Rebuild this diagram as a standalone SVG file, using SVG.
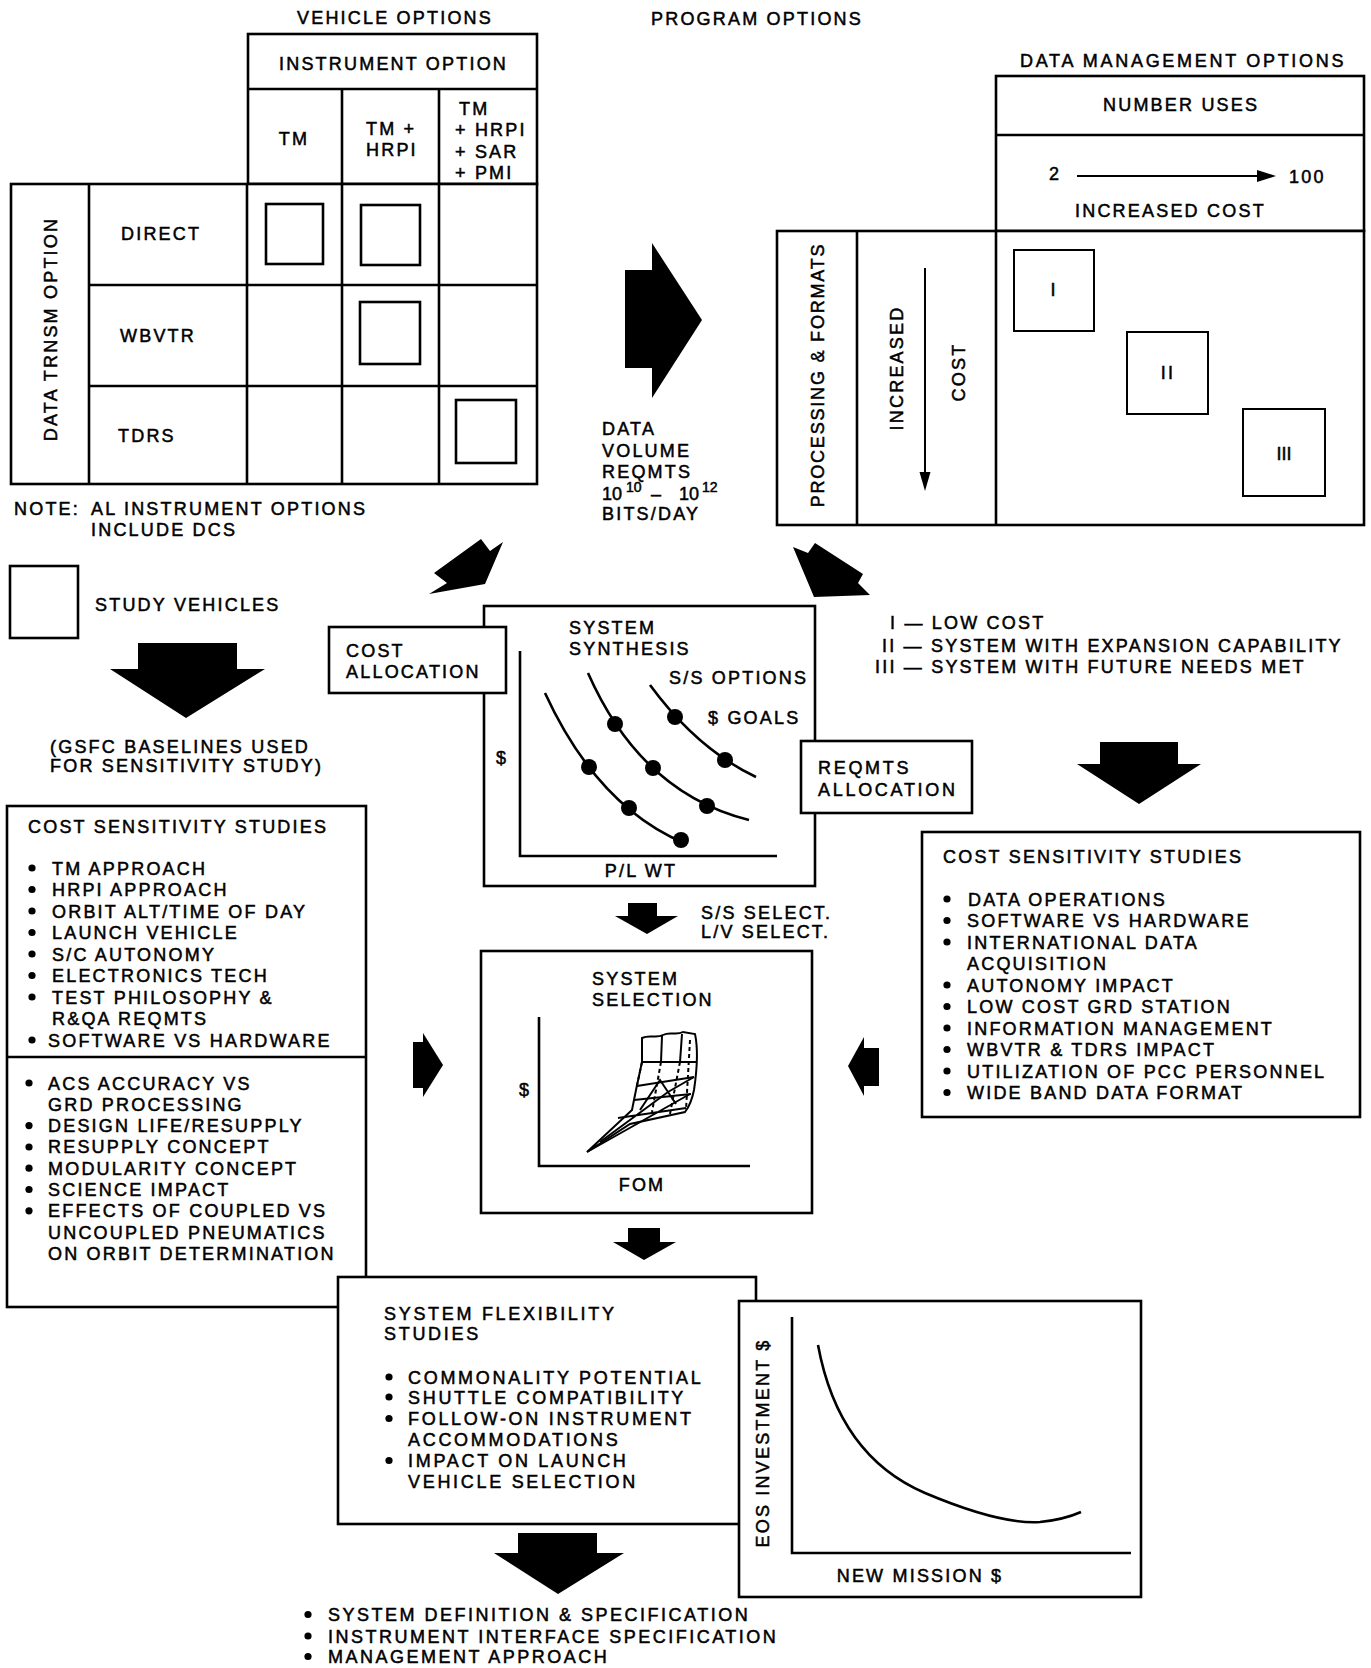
<svg xmlns="http://www.w3.org/2000/svg" width="1371" height="1668" viewBox="0 0 1371 1668">
<style>
text{font-family:"Liberation Sans",Arial,sans-serif;font-size:18px;letter-spacing:2.2px;fill:#000;stroke:#000;stroke-width:0.5}
.m{text-anchor:middle}
.box{fill:#fff;stroke:#000;stroke-width:2.6}
.ln{fill:none;stroke:#000;stroke-width:2.6}
.thin{fill:none;stroke:#000;stroke-width:2}
.arr{fill:#000;stroke:none}
.dot{fill:#000;stroke:none}
.dash{stroke-dasharray:4 3}
.wide{letter-spacing:2.7px}
</style>
<rect width="1371" height="1668" fill="#fff"/>

<!-- Vehicle options matrix -->
<g id="vehicle-options">
  <text class="m" x="395" y="24">VEHICLE OPTIONS</text>
  <rect class="box" x="248" y="34" width="289" height="150"/>
  <line class="ln" x1="248" y1="89" x2="537" y2="89"/>
  <text x="279" y="70">INSTRUMENT OPTION</text>
  <rect class="box" x="11" y="184" width="526" height="300"/>
  <line class="ln" x1="342" y1="89" x2="342" y2="484"/>
  <line class="ln" x1="439" y1="89" x2="439" y2="484"/>
  <line class="ln" x1="89" y1="184" x2="89" y2="484"/>
  <line class="ln" x1="247" y1="184" x2="247" y2="484"/>
  <line class="ln" x1="89" y1="285" x2="537" y2="285"/>
  <line class="ln" x1="89" y1="386" x2="537" y2="386"/>
  <text class="m" x="294" y="145">TM</text>
  <text x="366" y="135">TM +</text>
  <text x="366" y="156">HRPI</text>
  <text x="459" y="115">TM</text>
  <text x="455" y="136">+ HRPI</text>
  <text x="455" y="158">+ SAR</text>
  <text x="455" y="179">+ PMI</text>
  <text x="121" y="240">DIRECT</text>
  <text x="120" y="342">WBVTR</text>
  <text x="118" y="442">TDRS</text>
  <text class="m" transform="translate(56.5,329) rotate(-90)">DATA TRNSM OPTION</text>
  <rect class="ln" x="266" y="204" width="57" height="60"/>
  <rect class="ln" x="361" y="205" width="59" height="60"/>
  <rect class="ln" x="360" y="302" width="60" height="62"/>
  <rect class="ln" x="456" y="400" width="60" height="63"/>
</g>

<g id="note">
  <text x="14" y="515">NOTE:</text>
  <text x="91" y="515">AL INSTRUMENT OPTIONS</text>
  <text x="91" y="536">INCLUDE DCS</text>
</g>

<g id="study-vehicles">
  <rect class="ln" x="10" y="566" width="68" height="72"/>
  <text x="95" y="611">STUDY VEHICLES</text>
</g>

<g id="program-options">
  <text x="651" y="25">PROGRAM OPTIONS</text>
  <text x="602" y="435">DATA</text>
  <text x="602" y="457">VOLUME</text>
  <text x="602" y="478">REQMTS</text>
  <text y="500" style="letter-spacing:0"><tspan x="602">10</tspan><tspan x="626" font-size="14" dy="-8">10</tspan><tspan x="651" dy="8">–</tspan><tspan x="679">10</tspan><tspan x="702" font-size="14" dy="-8">12</tspan></text>
  <text x="602" y="520">BITS/DAY</text>
</g>

<!-- Data management options -->
<g id="data-management">
  <text x="1020" y="67" class="wide">DATA MANAGEMENT OPTIONS</text>
  <rect class="box" x="996" y="76" width="368" height="155"/>
  <line class="ln" x1="996" y1="135" x2="1364" y2="135"/>
  <text x="1103" y="111">NUMBER USES</text>
  <text x="1049" y="180">2</text>
  <line class="thin" x1="1077" y1="176" x2="1262" y2="176" stroke-width="1.6"/>
  <polygon class="arr" points="1276,176 1257,170 1257,182"/>
  <text x="1289" y="183">100</text>
  <text x="1075" y="217">INCREASED COST</text>
  <rect class="box" x="777" y="231" width="587" height="294"/>
  <line class="ln" x1="857" y1="231" x2="857" y2="525"/>
  <line class="ln" x1="996" y1="231" x2="996" y2="525"/>
  <text class="m" transform="translate(823.5,375) rotate(-90)" style="letter-spacing:1.8px">PROCESSING &amp; FORMATS</text>
  <text class="m" transform="translate(902.5,368) rotate(-90)">INCREASED</text>
  <text class="m" transform="translate(964.5,372) rotate(-90)">COST</text>
  <line class="thin" x1="925" y1="268" x2="925" y2="476" stroke-width="1.6"/>
  <polygon class="arr" points="925,491 919.5,472 930.5,472"/>
  <rect class="thin" x="1014" y="250" width="80" height="81"/>
  <text class="m" x="1054" y="296">I</text>
  <rect class="thin" x="1127" y="332" width="81" height="82"/>
  <text class="m" x="1168" y="379">II</text>
  <rect class="thin" x="1243" y="409" width="82" height="87"/>
  <text class="m" x="1284" y="460" style="letter-spacing:0">III</text>
</g>

<g id="legend">
  <text x="890" y="629">I — LOW COST</text>
  <text x="882" y="652">II — SYSTEM WITH EXPANSION CAPABILITY</text>
  <text x="875" y="673">III — SYSTEM WITH FUTURE NEEDS MET</text>
</g>

<!-- System synthesis -->
<g id="system-synthesis">
  <rect class="box" x="484" y="606" width="331" height="280"/>
  <text x="569" y="634">SYSTEM</text>
  <text x="569" y="655">SYNTHESIS</text>
  <text x="669" y="684">S/S OPTIONS</text>
  <text x="708" y="724">$ GOALS</text>
  <text class="m" x="502" y="764">$</text>
  <polyline class="ln" points="520,651 520,856 777,856"/>
  <text class="m" x="641" y="877">P/L WT</text>
  <path class="ln" d="M545,693 Q597,806 684,843"/>
  <path class="ln" d="M588,673 Q641,793 749,820"/>
  <path class="ln" d="M650,685 Q697,749 756,777"/>
  <circle class="dot" cx="589" cy="767" r="8"/>
  <circle class="dot" cx="629" cy="808" r="8"/>
  <circle class="dot" cx="681" cy="840" r="8"/>
  <circle class="dot" cx="615" cy="724" r="8"/>
  <circle class="dot" cx="653" cy="768" r="8"/>
  <circle class="dot" cx="707" cy="806" r="8"/>
  <circle class="dot" cx="675" cy="717" r="8"/>
  <circle class="dot" cx="725" cy="760" r="8"/>
</g>

<g id="cost-allocation">
  <rect class="box" x="329" y="627" width="177" height="66"/>
  <text x="346" y="657">COST</text>
  <text x="346" y="678">ALLOCATION</text>
</g>

<g id="reqmts-allocation">
  <rect class="box" x="801" y="741" width="171" height="72"/>
  <text x="818" y="774" class="wide">REQMTS</text>
  <text x="818" y="796" class="wide">ALLOCATION</text>
</g>

<!-- Left cost sensitivity studies -->
<g id="cost-sensitivity-left">
  <rect class="box" x="7" y="806" width="359" height="501"/>
  <line class="ln" x1="7" y1="1057" x2="366" y2="1057"/>
  <text x="28" y="833">COST SENSITIVITY STUDIES</text>
  <g class="dot">
    <circle cx="32" cy="868" r="3.6"/><circle cx="32" cy="889.5" r="3.6"/><circle cx="32" cy="911" r="3.6"/>
    <circle cx="32" cy="932.5" r="3.6"/><circle cx="32" cy="954" r="3.6"/><circle cx="32" cy="975.5" r="3.6"/>
    <circle cx="32" cy="997" r="3.6"/><circle cx="32" cy="1040" r="3.6"/>
    <circle cx="29" cy="1083" r="3.6"/><circle cx="29" cy="1125.6" r="3.6"/><circle cx="29" cy="1147" r="3.6"/>
    <circle cx="29" cy="1168.2" r="3.6"/><circle cx="29" cy="1189.5" r="3.6"/><circle cx="29" cy="1210.8" r="3.6"/>
  </g>
  <text x="52" y="874.5">TM APPROACH</text>
  <text x="52" y="896">HRPI APPROACH</text>
  <text x="52" y="917.5">ORBIT ALT/TIME OF DAY</text>
  <text x="52" y="939">LAUNCH VEHICLE</text>
  <text x="52" y="960.5">S/C AUTONOMY</text>
  <text x="52" y="982">ELECTRONICS TECH</text>
  <text x="52" y="1003.5">TEST PHILOSOPHY &amp;</text>
  <text x="52" y="1025">R&amp;QA REQMTS</text>
  <text x="48" y="1046.5">SOFTWARE VS HARDWARE</text>
  <text x="48" y="1089.5">ACS ACCURACY VS</text>
  <text x="48" y="1110.8">GRD PROCESSING</text>
  <text x="48" y="1132.1">DESIGN LIFE/RESUPPLY</text>
  <text x="48" y="1153.4">RESUPPLY CONCEPT</text>
  <text x="48" y="1174.7">MODULARITY CONCEPT</text>
  <text x="48" y="1196">SCIENCE IMPACT</text>
  <text x="48" y="1217.3">EFFECTS OF COUPLED VS</text>
  <text x="48" y="1238.6">UNCOUPLED PNEUMATICS</text>
  <text x="48" y="1259.9">ON ORBIT DETERMINATION</text>
</g>

<!-- Right cost sensitivity studies -->
<g id="cost-sensitivity-right">
  <rect class="box" x="922" y="832" width="438" height="285"/>
  <text x="943" y="863">COST SENSITIVITY STUDIES</text>
  <g class="dot">
    <circle cx="947" cy="899" r="3.6"/><circle cx="947" cy="920.5" r="3.6"/><circle cx="947" cy="942" r="3.6"/>
    <circle cx="947" cy="985" r="3.6"/><circle cx="947" cy="1006.5" r="3.6"/><circle cx="947" cy="1028" r="3.6"/>
    <circle cx="947" cy="1049.5" r="3.6"/><circle cx="947" cy="1071" r="3.6"/><circle cx="947" cy="1092.5" r="3.6"/>
  </g>
  <text x="968" y="905.5">DATA OPERATIONS</text>
  <text x="967" y="927">SOFTWARE VS HARDWARE</text>
  <text x="967" y="948.5">INTERNATIONAL DATA</text>
  <text x="967" y="970">ACQUISITION</text>
  <text x="967" y="991.5">AUTONOMY IMPACT</text>
  <text x="967" y="1013">LOW COST GRD STATION</text>
  <text x="967" y="1034.5">INFORMATION MANAGEMENT</text>
  <text x="967" y="1056">WBVTR &amp; TDRS IMPACT</text>
  <text x="967" y="1077.5">UTILIZATION OF PCC PERSONNEL</text>
  <text x="967" y="1099">WIDE BAND DATA FORMAT</text>
</g>

<!-- System selection -->
<g id="system-selection">
  <rect class="box" x="481" y="951" width="331" height="262"/>
  <text x="592" y="985">SYSTEM</text>
  <text x="592" y="1006">SELECTION</text>
  <text class="m" x="525" y="1096">$</text>
  <polyline class="ln" points="539,1017 539,1166 750,1166"/>
  <text class="m" x="642" y="1191">FOM</text>
  <g class="thin" stroke-width="1.8">
    <path d="M642,1038 C650,1034 656,1039 663,1035 C670,1031 676,1036 683,1032 L695,1034 C698,1048 697,1070 694,1090 C692,1100 689,1107 685,1112 L630,1124 L587,1152 L632,1110 L636,1090 L642,1062 Z"/>
    <path d="M642,1062 L697,1062 M637,1086 L694,1077 M634,1100 L691,1094 M662,1036 L661,1062 M682,1034 L680,1062"/>
    <path class="dash" d="M661,1062 L652,1112 M680,1062 L670,1114 M690,1040 L686,1110 M642,1062 L636,1090"/>
    <path d="M587,1152 L690,1094 M600,1142 L668,1092 L694,1077 M640,1110 L660,1080 L676,1104 M618,1118 L686,1108"/>
  </g>
</g>

<!-- System flexibility -->
<g id="system-flexibility">
  <rect class="box" x="338" y="1277" width="418" height="247"/>
  <text x="384" y="1319.5" class="wide">SYSTEM FLEXIBILITY</text>
  <text x="384" y="1339.5" class="wide">STUDIES</text>
  <g class="dot">
    <circle cx="389" cy="1377" r="3.6"/><circle cx="389" cy="1397" r="3.6"/>
    <circle cx="389" cy="1418.5" r="3.6"/><circle cx="389" cy="1460.5" r="3.6"/>
  </g>
  <text x="408" y="1383.5" class="wide">COMMONALITY POTENTIAL</text>
  <text x="408" y="1403.5" class="wide">SHUTTLE COMPATIBILITY</text>
  <text x="408" y="1425" class="wide">FOLLOW-ON INSTRUMENT</text>
  <text x="408" y="1446" class="wide">ACCOMMODATIONS</text>
  <text x="408" y="1467" class="wide">IMPACT ON LAUNCH</text>
  <text x="408" y="1487.5" class="wide">VEHICLE SELECTION</text>
</g>

<!-- EOS investment chart -->
<g id="eos-chart">
  <rect class="box" x="739" y="1301" width="402" height="296"/>
  <polyline class="ln" points="792,1317 792,1553 1131,1553"/>
  <text class="m" transform="translate(768.5,1443) rotate(-90)">EOS INVESTMENT $</text>
  <text class="m" x="920" y="1582">NEW MISSION $</text>
  <path class="ln" d="M818,1345 C830,1410 860,1465 925,1493 C970,1512 1010,1524 1040,1522 C1060,1520 1072,1516 1081,1512"/>
</g>

<g id="outputs">
  <g class="dot">
    <circle cx="308" cy="1614.5" r="3.6"/><circle cx="308" cy="1636" r="3.6"/><circle cx="308" cy="1656.5" r="3.6"/>
  </g>
  <text x="328" y="1621" style="letter-spacing:2.5px">SYSTEM DEFINITION &amp; SPECIFICATION</text>
  <text x="328" y="1642.5" style="letter-spacing:2.5px">INSTRUMENT INTERFACE SPECIFICATION</text>
  <text x="328" y="1663" style="letter-spacing:2.5px">MANAGEMENT APPROACH</text>
</g>

<!-- Connectors: block arrows -->
<g id="connectors" class="arr">
  <polygon points="625,270 652,270 652,243 702,320 652,398 652,368 625,368"/>
  <polygon points="429,594 447,583 434,573 481,539 490,551 503,542 485,584"/>
  <polygon points="793,547 808,553 815,543 863,574 858,583 870,595 814,597"/>
  <polygon points="138,643 237,643 237,669 265,669 186,718 110,669 138,669"/>
  <polygon points="1100,742 1178,742 1178,764 1201,764 1139,804 1077,764 1100,764"/>
  <polygon points="628,903 657,903 657,916 678,916 647,934 615,916 628,916"/>
  <polygon points="413,1042 423,1042 423,1033 443,1065 423,1097 423,1088 413,1088"/>
  <polygon points="879,1048 864,1048 864,1037 848,1066 864,1096 864,1086 879,1086"/>
  <polygon points="628,1228 660,1228 660,1242 676,1242 644,1260 613,1242 628,1242"/>
  <polygon points="518,1533 597,1533 597,1553 624,1553 558,1594 494,1553 518,1553"/>
</g>
<g id="connector-labels">
  <text x="701" y="918.5">S/S SELECT.</text>
  <text x="701" y="937.5">L/V SELECT.</text>
  <text x="50" y="753">(GSFC BASELINES USED</text>
  <text x="50" y="772">FOR SENSITIVITY STUDY)</text>
</g>
</svg>
